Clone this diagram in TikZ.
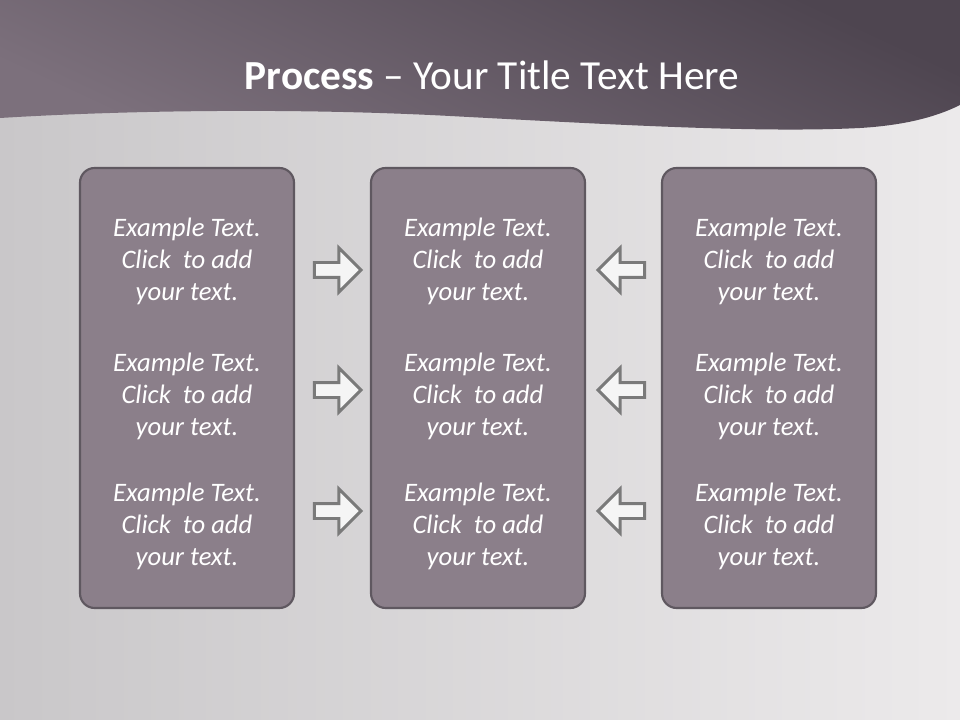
\documentclass[tikz,border=0pt]{standalone}
\usepackage{fontspec}
\setmainfont{Carlito}
\usetikzlibrary{shapes.arrows}

\definecolor{bandtop}{HTML}{4E4550}
\definecolor{bandlow}{HTML}{7C707C}
\definecolor{boxfill}{HTML}{8B7F8A}
\definecolor{boxline}{HTML}{5F5860}
\definecolor{bgleft}{HTML}{C9C7C9}
\definecolor{bgright}{HTML}{ECEAEB}
\definecolor{arrline}{HTML}{7A7A7A}

\tikzset{
  procbox/.style={draw=boxline, line width=1.6pt, fill=boxfill, rounded corners=11pt,
    minimum width=160.5pt, minimum height=330pt},
  proctext/.style={text=white, align=center, inner sep=0pt,
    font=\itshape\fontsize{20}{24}\selectfont},
  blockarr/.style={single arrow, draw=arrline, line width=2.2pt, fill=white!96!black,
    inner xsep=0pt, inner ysep=4.5pt, minimum height=35pt, minimum width=31pt,
    single arrow head extend=11pt}
}

\begin{document}
\begin{tikzpicture}[x=0.75pt, y=-0.75pt]
    \useasboundingbox (0,0) rectangle (960,720);
    % Background and title band
    \shade[left color=bgleft, right color=bgright] (0,0) rectangle (960,720);
    \shade[top color=bandtop, bottom color=bandlow, shading angle=-25]
        (0,0) -- (960,0) -- (960,105)
        .. controls (940,115) and (910,125) .. (860,128)
        .. controls (760,133) and (620,125) .. (450,116)
        .. controls (300,108) and (130,110) .. (0,118) -- cycle;
    \node[text=white, font=\fontsize{31}{36}\selectfont] (title) at (492,75)
        {\textbf{Process} -- Your Title Text Here};

    % Left column
    \node[procbox] (boxL) at (187,388) {};
    \node[proctext] (txtL1) at (187,261) {Example Text.\\Click\ \ to add\\your text.};
    \node[proctext] (txtL2) at (187,396) {Example Text.\\Click\ \ to add\\your text.};
    \node[proctext] (txtL3) at (187,526) {Example Text.\\Click\ \ to add\\your text.};

    % Middle column
    \node[procbox] (boxM) at (478,388) {};
    \node[proctext] (txtM1) at (478,261) {Example Text.\\Click\ \ to add\\your text.};
    \node[proctext] (txtM2) at (478,396) {Example Text.\\Click\ \ to add\\your text.};
    \node[proctext] (txtM3) at (478,526) {Example Text.\\Click\ \ to add\\your text.};

    % Right column
    \node[procbox] (boxR) at (769,388) {};
    \node[proctext] (txtR1) at (769,261) {Example Text.\\Click\ \ to add\\your text.};
    \node[proctext] (txtR2) at (769,396) {Example Text.\\Click\ \ to add\\your text.};
    \node[proctext] (txtR3) at (769,526) {Example Text.\\Click\ \ to add\\your text.};

    % Arrows into the middle column
    \node[blockarr] (arrL1) at (334,270) {};
    \node[blockarr] (arrL2) at (334,390) {};
    \node[blockarr] (arrL3) at (334,511) {};
    \node[blockarr, shape border rotate=180] (arrR1) at (625,270) {};
    \node[blockarr, shape border rotate=180] (arrR2) at (625,390) {};
    \node[blockarr, shape border rotate=180] (arrR3) at (625,511) {};
\end{tikzpicture}
\end{document}
